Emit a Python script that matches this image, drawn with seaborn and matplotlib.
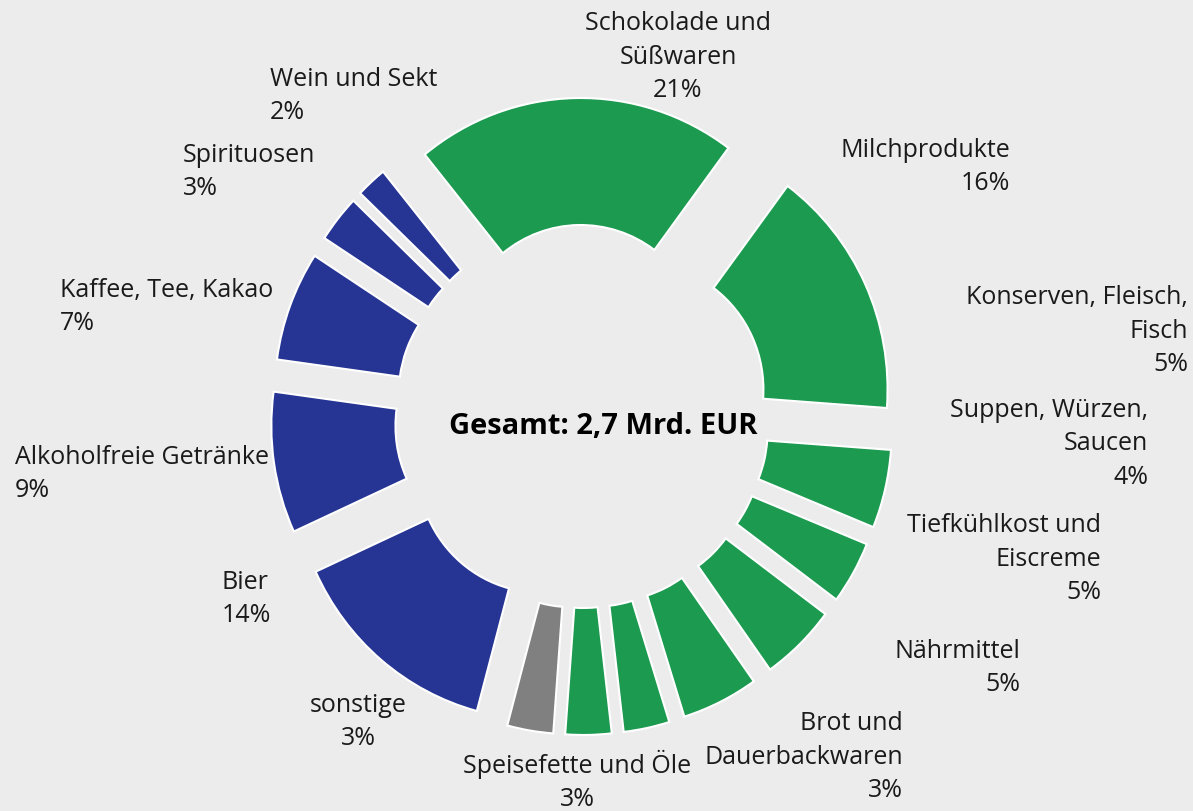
import matplotlib
matplotlib.use('Agg')
import matplotlib.pyplot as plt
import seaborn as sns

# -----------------------------
# Daten
# -----------------------------
categories = [
    'Schokolade und\nSüßwaren', 'Milchprodukte', 'Konserven, Fleisch,\nFisch',
    'Suppen, Würzen,\nSaucen', 'Tiefkühlkost und\nEiscreme', 'Nährmittel',
    'Brot und\nDauerbackwaren', 'Speisefette und Öle', 'sonstige', 'Bier',
    'Alkoholfreie Getränke', 'Kaffee, Tee, Kakao', 'Spirituosen', 'Wein und Sekt',
]
shares = [21, 16, 5, 4, 5, 5, 3, 3, 3, 14, 9, 7, 3, 2]
groups = ['food'] * 8 + ['other'] + ['drink'] * 5
total_text = 'Gesamt: 2,7 Mrd. EUR'

# -----------------------------
# Layout / Stil
# -----------------------------
W, H = 1193, 811
bg = '#ececec'
colors = {'food': '#1c9a50', 'drink': '#263594', 'other': '#808080'}
text_color = '#1a1a1a'

# Label-Anker in Pixeln (x, y von oben, Ausrichtung)
label_pos = [
    (678, 57, 'center'), (1010, 167, 'right'), (1188, 331, 'right'),
    (1148, 444, 'right'), (1101, 559, 'right'), (1020, 668, 'right'),
    (903, 757, 'right'), (577, 781, 'center'), (358, 722, 'center'),
    (222, 599, 'left'), (15, 474, 'left'), (60, 307, 'left'),
    (183, 172, 'left'), (270, 96, 'left'),
]

sns.set_theme(style='white')
plt.rcParams['font.family'] = ['Open Sans', 'DejaVu Sans']

fig = plt.figure(figsize=(W / 100, H / 100), dpi=100, facecolor=bg)
ax = fig.add_axes([0, 0, 1, 1])
ax.set_facecolor(bg)

# der Ring ist im Original leicht gestaucht (horizontal)
squeeze = 1.023
cx, cy = 582 * squeeze, H - 416.5
radius = 253.5
ring = 127
gap = 65

ax.pie(
    shares,
    colors=[colors[g] for g in groups],
    startangle=129,
    counterclock=False,
    radius=radius,
    center=(cx, cy),
    explode=[gap] * len(shares),
    wedgeprops=dict(width=ring, edgecolor='white', linewidth=1.5),
)

for cat, val, (x, y, ha) in zip(categories, shares, label_pos):
    ax.text(x / W, 1 - y / H, f'{cat}\n{val}%', ha=ha, va='center',
            multialignment=ha, fontsize=18, color=text_color,
            linespacing=1.46, transform=ax.transAxes)

ax.text(603 / W, 1 - 427 / H, total_text, ha='center', va='center',
        fontsize=21, fontweight='bold', color='black', transform=ax.transAxes)

ax.set_aspect('auto')
ax.set_xlim(0, W * squeeze)
ax.set_ylim(0, H)
ax.axis('off')

plt.savefig('out.png', dpi=100, facecolor=bg)
